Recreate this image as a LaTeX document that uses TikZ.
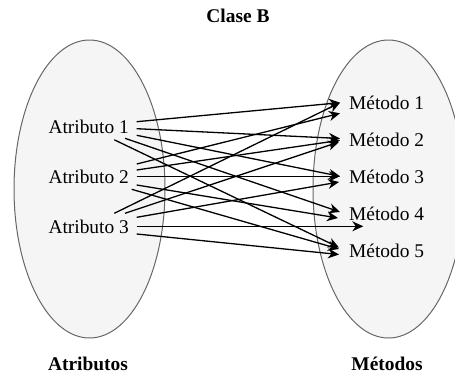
\documentclass[tikz,border=0pt]{standalone}
\usepackage{fontspec}
\setmainfont{Liberation Serif}
\usetikzlibrary{arrows.meta,shapes.geometric}
\definecolor{setfill}{HTML}{F5F5F5}
\definecolor{setline}{HTML}{666666}
\begin{document}
\begin{tikzpicture}[x=1pt,y=-1pt,
  setshape/.style={ellipse, draw=setline, fill=setfill, line width=1pt,
    minimum width=151pt, minimum height=298pt, inner sep=0pt},
  member/.style={font=\fontsize{19.4}{23}\selectfont, inner sep=0pt, anchor=base west},
  heading/.style={font=\fontsize{19.4}{23}\selectfont\bfseries, inner sep=0pt, anchor=base},
  link/.style={line width=1.3pt, -{Stealth[length=11pt,width=10pt,inset=3.5pt]}}]
\useasboundingbox (0,0) rectangle (455,375);
\clip (0,0) rectangle (455,375);

% the two sets
\node[setshape] (attrs) at (89.5,189) {};
\node[setshape] (meths) at (388.5,189) {};

% headings
\node[heading] (title) at (238,22) {Clase B};
\node[heading] (attrname) at (88,370) {Atributos};
\node[heading] (methname) at (387,370) {Métodos};

% members
\node[member] (a1) at (48.3,133.3) {Atributo 1};
\node[member] (a2) at (48.3,183.3) {Atributo 2};
\node[member] (a3) at (48.3,233.3) {Atributo 3};
\node[member] (m1) at (349,109.3) {Método 1};
\node[member] (m2) at (349,146.7) {Método 2};
\node[member] (m3) at (349,183.3) {Método 3};
\node[member] (m4) at (349,220) {Método 4};
\node[member] (m5) at (349,257.3) {Método 5};

% connector ends on the attribute side
\coordinate (a1s1) at (136.7,121.7);
\coordinate (a1s2) at (136.7,128.7);
\coordinate (a1s3) at (136.7,135.3);
\coordinate (a1s4) at (125,138.3);
\coordinate (a1s5) at (114.3,139.8);
\coordinate (a2s1) at (136.7,164);
\coordinate (a2s2) at (136.7,170);
\coordinate (a2s3) at (136.7,176.3);
\coordinate (a2s4) at (136.7,185);
\coordinate (a2s5) at (131.7,189.3);
\coordinate (a3s1) at (114.3,213.3);
\coordinate (a3s2) at (125,213.3);
\coordinate (a3s3) at (136.7,217.3);
\coordinate (a3s4) at (136.7,226.3);
\coordinate (a3s5) at (136.7,234);

% connector ends on the method side
\coordinate (m1t1) at (340,102.7);
\coordinate (m1t2) at (340,113.3);
\coordinate (m2t1) at (340,138.5);
\coordinate (m2t2) at (340,140.3);
\coordinate (m2t3) at (339,142);
\coordinate (m3t1) at (340,176.3);
\coordinate (m3t2) at (339,182);
\coordinate (m4t1) at (340,212);
\coordinate (m4t2) at (338,218);
\coordinate (m4t3) at (363.3,226.3);
\coordinate (m5t1) at (339,247.5);
\coordinate (m5t2) at (339,249);
\coordinate (m5t3) at (339,254.5);

% Atributo 1
\draw[link] (a1s1) -- (m1t1);
\draw[link] (a1s2) -- (m2t1);
\draw[link] (a1s3) -- (m3t1);
\draw[link] (a1s4) -- (m4t1);
\draw[link] (a1s5) -- (m5t1);
% Atributo 2
\draw[link] (a2s1) -- (m1t2);
\draw[link] (a2s2) -- (m2t2);
\draw[link] (a2s3) -- (m3t1);
\draw[link] (a2s4) -- (m4t2);
\draw[link] (a2s5) -- (m5t2);
% Atributo 3
\draw[link] (a3s1) -- (m1t1);
\draw[link] (a3s2) -- (m2t3);
\draw[link] (a3s3) -- (m3t2);
\draw[link] (a3s4) -- (m4t3);
\draw[link] (a3s5) -- (m5t3);
\end{tikzpicture}
\end{document}
